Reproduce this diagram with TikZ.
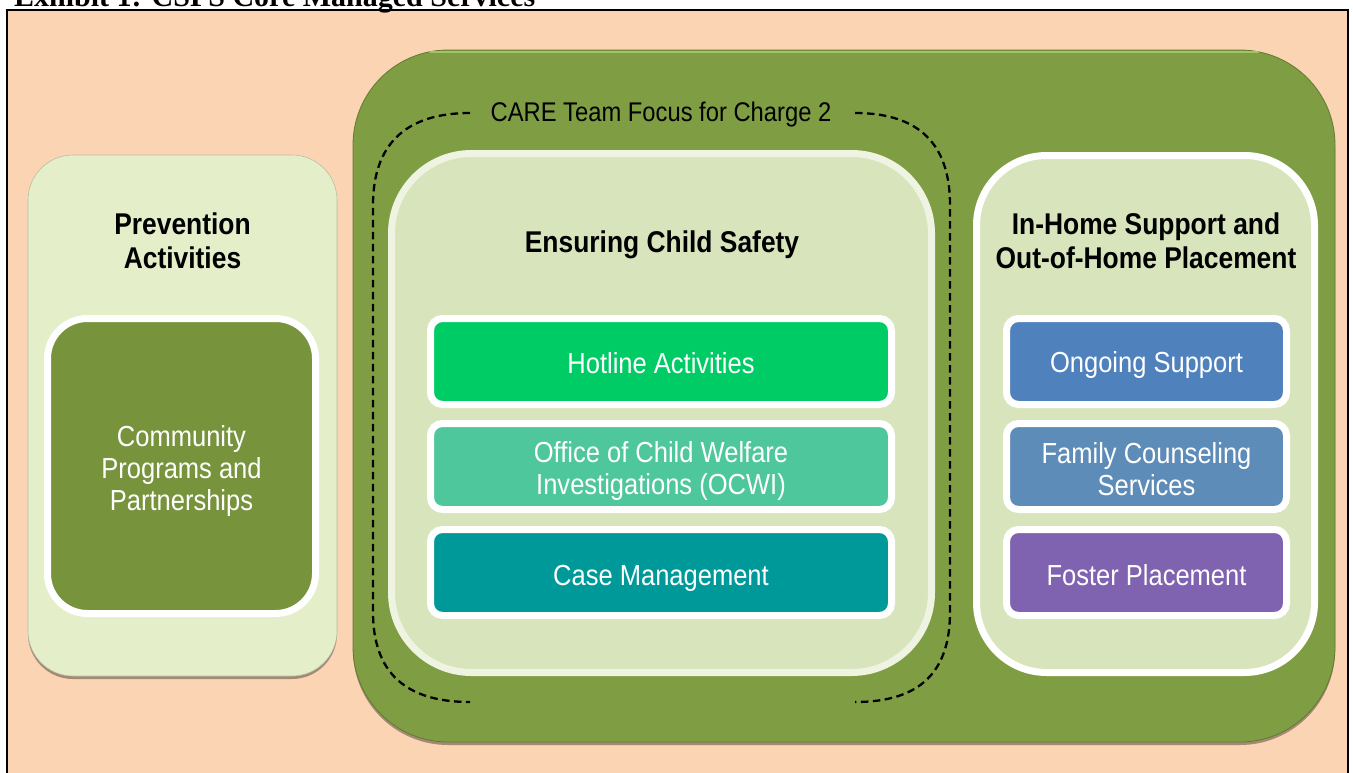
\documentclass[tikz,border=0pt]{standalone}
\usepackage{fontspec}
\setmainfont[FakeStretch=0.88]{Liberation Sans}
\newfontfamily\titlefont{Liberation Serif}
\usetikzlibrary{shadows}
\definecolor{peach}{HTML}{FBD4B4}
\definecolor{prevfill}{HTML}{E4EFCA}
\definecolor{commgreen}{HTML}{77933C}
\definecolor{biggreen}{HTML}{7F9E44}
\definecolor{bigedge}{HTML}{62792F}
\definecolor{bighigh}{HTML}{A3C269}
\definecolor{ensrim}{HTML}{EEF3E2}
\definecolor{ensfill}{HTML}{D8E4BC}
\definecolor{hotline}{HTML}{00CC66}
\definecolor{ocwi}{HTML}{4FC79D}
\definecolor{casemg}{HTML}{009999}
\definecolor{ongoing}{HTML}{4F81BD}
\definecolor{family}{HTML}{5E8CB8}
\definecolor{foster}{HTML}{7F62B0}
\begin{document}
\begin{tikzpicture}[x=1pt,y=-1pt,
  panel/.style={rectangle, inner sep=0pt, align=center},
  sh/.style={drop shadow={shadow xshift=0pt, shadow yshift=-3pt, opacity=0.35, fill=black}},
  heading/.style={align=center, inner sep=0pt, font=\bfseries\fontsize{30}{34}\selectfont},
  itemtext/.style={align=center, inner sep=0pt, text=white, font=\fontsize{29}{32}\selectfont},
  wideitem/.style={panel, draw=white, line width=7pt, rounded corners=12pt, minimum width=461pt, minimum height=86pt, sh},
  narrowitem/.style={panel, draw=white, line width=7pt, rounded corners=12pt, minimum width=280pt, minimum height=86pt, sh},
  dashline/.style={line width=2.3pt, dash pattern=on 7.5pt off 4.5pt}
]
\useasboundingbox (0,0) rectangle (1353,772);
\clip (0,0) rectangle (1353,772);
\fill[white] (0,0) rectangle (1353,772);
\fill[peach] (7,10) rectangle (1348,790);
\draw[line width=2pt] (7,790) -- (7,10) -- (1348,10) -- (1348,790);
\node[anchor=base west, inner sep=0pt, font=\titlefont\bfseries\fontsize{30}{34}\selectfont] (title) at (14,6) {Exhibit 1: CSPS Core Managed Services};

% Prevention column
\node[panel, fill=prevfill, draw=prevfill!80!black, line width=0.6pt, rounded corners=45pt, minimum width=309pt, minimum height=521pt, sh] (prev) at (182.5,415.5) {};
\node[heading] (prevhead) at (182.5,241) {Prevention\\Activities};
\node[panel, fill=commgreen, draw=white, line width=7pt, rounded corners=40pt, minimum width=268pt, minimum height=295pt, sh] (comm) at (181.5,466) {};
\node[itemtext] (commtext) at ([yshift=-5pt]comm.center) {Community\\Programs and\\Partnerships};

% big green container
\node[panel, fill=biggreen, draw=bigedge, line width=0.8pt, rounded corners=95pt, minimum width=982pt, minimum height=692pt, sh] (big) at (844,396) {};
\draw[bighigh, line width=2pt, line cap=round] (430,52) -- (1258,52);

% Ensuring Child Safety
\node[panel, fill=ensfill, draw=ensrim, line width=7pt, rounded corners=80pt, minimum width=540pt, minimum height=519pt, sh] (ens) at (661.5,413) {};
\node[heading, anchor=base] (enshead) at (662,252) {Ensuring Child Safety};
\node[wideitem, fill=hotline] (hot) at (661,361.5) {};
\node[itemtext] (hottext) at ([yshift=-2pt]hot.center) {Hotline Activities};
\node[wideitem, fill=ocwi] (ocwi) at (661,466.5) {};
\node[itemtext] (ocwitext) at ([yshift=-4pt]ocwi.center) {Office of Child Welfare\\Investigations (OCWI)};
\node[wideitem, fill=casemg] (case) at (661,572.5) {};
\node[itemtext] (casetext) at ([yshift=-6pt]case.center) {Case Management};

% In-Home support
\node[panel, fill=ensfill, draw=white, line width=7pt, rounded corners=70pt, minimum width=338pt, minimum height=517pt, sh] (inhome) at (1145.5,414) {};
\node[heading] (inhomehead) at (1146,241) {In-Home Support and\\Out-of-Home Placement};
\node[narrowitem, fill=ongoing] (ongo) at (1146.5,361.5) {};
\node[itemtext] (ongotext) at ([yshift=-3pt]ongo.center) {Ongoing Support};
\node[narrowitem, fill=family] (fam) at (1146.5,466.5) {};
\node[itemtext] (famtext) at ([yshift=-3pt]fam.center) {Family Counseling\\Services};
\node[narrowitem, fill=foster] (fost) at (1146.5,572.5) {};
\node[itemtext] (fosttext) at ([yshift=-3pt]fost.center) {Foster Placement};

% CARE dashed focus
\node[inner sep=0pt, font=\fontsize{27}{30}\selectfont] (care) at (661,115) {CARE Team Focus for Charge 2};
\draw[dashline] (470,113) .. controls (405,113) and (373,145) .. (373,205) -- (373,612) .. controls (373,672) and (405,702) .. (470,702);
\draw[dashline] (855,113) .. controls (920,113) and (950,145) .. (950,205) -- (950,612) .. controls (950,672) and (920,702) .. (855,702);
\end{tikzpicture}
\end{document}
